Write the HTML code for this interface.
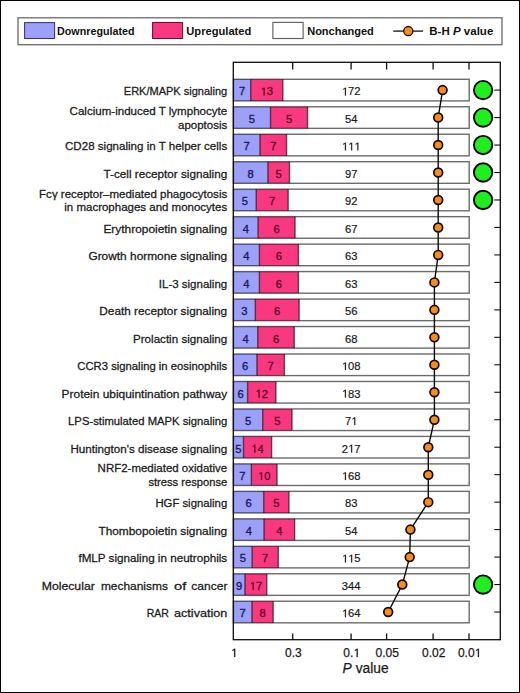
<!DOCTYPE html>
<html><head><meta charset="utf-8"><style>
html,body{margin:0;padding:0;background:#fff;}
svg{display:block;}
text{font-family:"Liberation Sans",sans-serif;}
</style></head><body>
<svg width="520" height="693" viewBox="0 0 520 693">
<rect x="0" y="0" width="520" height="693" fill="#fff"/>
<rect x="0.5" y="0.5" width="519" height="692" fill="none" stroke="#000" stroke-width="1"/>

<g>
<rect x="18" y="17.8" width="484" height="26.9" fill="#fff" stroke="#6a6a6a" stroke-width="1.3"/>
<rect x="24.6" y="22.6" width="30" height="15.9" fill="#9ca0f8" stroke="#33367a" stroke-width="1.05"/>
<rect x="152.6" y="22.5" width="30" height="16" fill="#fa3880" stroke="#6a1030" stroke-width="1.05"/>
<rect x="272.9" y="22.4" width="30.2" height="16.1" fill="#fff" stroke="#666" stroke-width="1.2"/>
<line x1="393.3" y1="31.1" x2="423.1" y2="31.1" stroke="#111" stroke-width="1.3"/>
<circle cx="408.3" cy="31.1" r="4.6" fill="#f58c1c" stroke="#111" stroke-width="1.3"/>
<text x="57.0" y="34.7" font-size="11" font-weight="bold" fill="#111" textLength="77.6" lengthAdjust="spacingAndGlyphs">Downregulated</text>
<text x="186.3" y="34.7" font-size="11" font-weight="bold" fill="#111" textLength="65.0" lengthAdjust="spacingAndGlyphs">Upregulated</text>
<text x="307.2" y="34.7" font-size="11" font-weight="bold" fill="#111" textLength="66.6" lengthAdjust="spacingAndGlyphs">Nonchanged</text>
<text x="429.3" y="34.7" font-size="11" font-weight="bold" fill="#111" textLength="64.0" lengthAdjust="spacingAndGlyphs">B-H <tspan font-style="italic">P</tspan> value</text>
</g>
<rect x="233.44" y="79.30" width="17.30" height="21.6" fill="#9ca0f8"/>
<rect x="250.74" y="79.30" width="32.12" height="21.6" fill="#fa3880"/>
<rect x="233.44" y="79.30" width="235.76" height="21.6" fill="none" stroke="rgba(0,0,0,0.58)" stroke-width="1.4"/>
<line x1="250.74" y1="79.30" x2="250.74" y2="100.90" stroke="rgba(0,0,0,0.6)" stroke-width="1.4"/>
<line x1="282.86" y1="79.30" x2="282.86" y2="100.90" stroke="rgba(0,0,0,0.6)" stroke-width="1.4"/>
<text x="238.97" y="95.40" font-size="11.2" fill="#1a1a5c" stroke="#1a1a5c" stroke-width="0.35">7</text>
<path d="M560 0H740V1409H610L250 1185V1025L560 1215Z" transform="translate(260.57,95.40) scale(0.00547,-0.00547)" fill="#5c0a24" stroke="#5c0a24" stroke-width="64.0"/><text x="266.80" y="95.40" font-size="11.2" fill="#5c0a24" stroke="#5c0a24" stroke-width="0.35">3</text>
<path d="M560 0H740V1409H610L250 1185V1025L560 1215Z" transform="translate(341.86,95.40) scale(0.00547,-0.00547)" fill="#1a1a1a" stroke="#1a1a1a" stroke-width="36.6"/><text x="348.09" y="95.40" font-size="11.2" fill="#1a1a1a" stroke="#1a1a1a" stroke-width="0.2">7</text><text x="354.31" y="95.40" font-size="11.2" fill="#1a1a1a" stroke="#1a1a1a" stroke-width="0.2">2</text>
<line x1="494.30" y1="90.10" x2="500.30" y2="90.10" stroke="#111" stroke-width="1.1"/>
<circle cx="483.1" cy="90.10" r="9.2" fill="#1fee1f" stroke="#050505" stroke-width="1.9"/>
<text x="227.20" y="95.40" font-size="11.7" text-anchor="end" fill="#1a1a1a" stroke="#1a1a1a" stroke-width="0.28" textLength="103.40" lengthAdjust="spacingAndGlyphs">ERK/MAPK signaling</text>
<rect x="233.44" y="106.77" width="37.06" height="21.6" fill="#9ca0f8"/>
<rect x="270.50" y="106.77" width="37.06" height="21.6" fill="#fa3880"/>
<rect x="233.44" y="106.77" width="235.76" height="21.6" fill="none" stroke="rgba(0,0,0,0.58)" stroke-width="1.4"/>
<line x1="270.50" y1="106.77" x2="270.50" y2="128.37" stroke="rgba(0,0,0,0.6)" stroke-width="1.4"/>
<line x1="307.56" y1="106.77" x2="307.56" y2="128.37" stroke="rgba(0,0,0,0.6)" stroke-width="1.4"/>
<text x="248.86" y="122.87" font-size="11.2" fill="#1a1a5c" stroke="#1a1a5c" stroke-width="0.35">5</text>
<text x="285.92" y="122.87" font-size="11.2" fill="#5c0a24" stroke="#5c0a24" stroke-width="0.35">5</text>
<text x="344.97" y="122.87" font-size="11.2" fill="#1a1a1a" stroke="#1a1a1a" stroke-width="0.2">5</text><text x="351.20" y="122.87" font-size="11.2" fill="#1a1a1a" stroke="#1a1a1a" stroke-width="0.2">4</text>
<line x1="494.30" y1="117.57" x2="500.30" y2="117.57" stroke="#111" stroke-width="1.1"/>
<circle cx="483.1" cy="117.57" r="9.2" fill="#1fee1f" stroke="#050505" stroke-width="1.9"/>
<text x="227.20" y="115.17" font-size="11.7" text-anchor="end" fill="#1a1a1a" stroke="#1a1a1a" stroke-width="0.28" textLength="157.60" lengthAdjust="spacingAndGlyphs">Calcium-induced T lymphocyte</text>
<text x="227.20" y="128.97" font-size="11.7" text-anchor="end" fill="#1a1a1a" stroke="#1a1a1a" stroke-width="0.28" textLength="49.20" lengthAdjust="spacingAndGlyphs">apoptosis</text>
<rect x="233.44" y="134.24" width="26.57" height="21.6" fill="#9ca0f8"/>
<rect x="260.01" y="134.24" width="26.57" height="21.6" fill="#fa3880"/>
<rect x="233.44" y="134.24" width="235.76" height="21.6" fill="none" stroke="rgba(0,0,0,0.58)" stroke-width="1.4"/>
<line x1="260.01" y1="134.24" x2="260.01" y2="155.84" stroke="rgba(0,0,0,0.6)" stroke-width="1.4"/>
<line x1="286.57" y1="134.24" x2="286.57" y2="155.84" stroke="rgba(0,0,0,0.6)" stroke-width="1.4"/>
<text x="243.61" y="150.34" font-size="11.2" fill="#1a1a5c" stroke="#1a1a5c" stroke-width="0.35">7</text>
<text x="270.18" y="150.34" font-size="11.2" fill="#5c0a24" stroke="#5c0a24" stroke-width="0.35">7</text>
<path d="M560 0H740V1409H610L250 1185V1025L560 1215Z" transform="translate(341.86,150.34) scale(0.00547,-0.00547)" fill="#1a1a1a" stroke="#1a1a1a" stroke-width="36.6"/><path d="M560 0H740V1409H610L250 1185V1025L560 1215Z" transform="translate(348.09,150.34) scale(0.00547,-0.00547)" fill="#1a1a1a" stroke="#1a1a1a" stroke-width="36.6"/><path d="M560 0H740V1409H610L250 1185V1025L560 1215Z" transform="translate(354.31,150.34) scale(0.00547,-0.00547)" fill="#1a1a1a" stroke="#1a1a1a" stroke-width="36.6"/>
<line x1="494.30" y1="145.04" x2="500.30" y2="145.04" stroke="#111" stroke-width="1.1"/>
<circle cx="483.1" cy="145.04" r="9.2" fill="#1fee1f" stroke="#050505" stroke-width="1.9"/>
<text x="227.20" y="150.34" font-size="11.7" text-anchor="end" fill="#1a1a1a" stroke="#1a1a1a" stroke-width="0.28" textLength="162.20" lengthAdjust="spacingAndGlyphs">CD28 signaling in T helper cells</text>
<rect x="233.44" y="161.71" width="34.50" height="21.6" fill="#9ca0f8"/>
<rect x="267.94" y="161.71" width="21.56" height="21.6" fill="#fa3880"/>
<rect x="233.44" y="161.71" width="235.76" height="21.6" fill="none" stroke="rgba(0,0,0,0.58)" stroke-width="1.4"/>
<line x1="267.94" y1="161.71" x2="267.94" y2="183.31" stroke="rgba(0,0,0,0.6)" stroke-width="1.4"/>
<line x1="289.51" y1="161.71" x2="289.51" y2="183.31" stroke="rgba(0,0,0,0.6)" stroke-width="1.4"/>
<text x="247.58" y="177.81" font-size="11.2" fill="#1a1a5c" stroke="#1a1a5c" stroke-width="0.35">8</text>
<text x="275.61" y="177.81" font-size="11.2" fill="#5c0a24" stroke="#5c0a24" stroke-width="0.35">5</text>
<text x="344.97" y="177.81" font-size="11.2" fill="#1a1a1a" stroke="#1a1a1a" stroke-width="0.2">9</text><text x="351.20" y="177.81" font-size="11.2" fill="#1a1a1a" stroke="#1a1a1a" stroke-width="0.2">7</text>
<line x1="494.30" y1="172.51" x2="500.30" y2="172.51" stroke="#111" stroke-width="1.1"/>
<circle cx="483.1" cy="172.51" r="9.2" fill="#1fee1f" stroke="#050505" stroke-width="1.9"/>
<text x="227.20" y="177.81" font-size="11.7" text-anchor="end" fill="#1a1a1a" stroke="#1a1a1a" stroke-width="0.28" textLength="123.70" lengthAdjust="spacingAndGlyphs">T-cell receptor signaling</text>
<rect x="233.44" y="189.18" width="22.81" height="21.6" fill="#9ca0f8"/>
<rect x="256.25" y="189.18" width="31.93" height="21.6" fill="#fa3880"/>
<rect x="233.44" y="189.18" width="235.76" height="21.6" fill="none" stroke="rgba(0,0,0,0.58)" stroke-width="1.4"/>
<line x1="256.25" y1="189.18" x2="256.25" y2="210.78" stroke="rgba(0,0,0,0.6)" stroke-width="1.4"/>
<line x1="288.18" y1="189.18" x2="288.18" y2="210.78" stroke="rgba(0,0,0,0.6)" stroke-width="1.4"/>
<text x="241.73" y="205.28" font-size="11.2" fill="#1a1a5c" stroke="#1a1a5c" stroke-width="0.35">5</text>
<text x="269.10" y="205.28" font-size="11.2" fill="#5c0a24" stroke="#5c0a24" stroke-width="0.35">7</text>
<text x="344.97" y="205.28" font-size="11.2" fill="#1a1a1a" stroke="#1a1a1a" stroke-width="0.2">9</text><text x="351.20" y="205.28" font-size="11.2" fill="#1a1a1a" stroke="#1a1a1a" stroke-width="0.2">2</text>
<line x1="494.30" y1="199.98" x2="500.30" y2="199.98" stroke="#111" stroke-width="1.1"/>
<circle cx="483.1" cy="199.98" r="9.2" fill="#1fee1f" stroke="#050505" stroke-width="1.9"/>
<text x="227.20" y="197.58" font-size="11.7" text-anchor="end" fill="#1a1a1a" stroke="#1a1a1a" stroke-width="0.28" textLength="188.10" lengthAdjust="spacingAndGlyphs">Fcγ receptor–mediated phagocytosis</text>
<text x="227.20" y="211.38" font-size="11.7" text-anchor="end" fill="#1a1a1a" stroke="#1a1a1a" stroke-width="0.28" textLength="162.90" lengthAdjust="spacingAndGlyphs">in macrophages and monocytes</text>
<rect x="233.44" y="216.65" width="24.64" height="21.6" fill="#9ca0f8"/>
<rect x="258.08" y="216.65" width="36.97" height="21.6" fill="#fa3880"/>
<rect x="233.44" y="216.65" width="235.76" height="21.6" fill="none" stroke="rgba(0,0,0,0.58)" stroke-width="1.4"/>
<line x1="258.08" y1="216.65" x2="258.08" y2="238.25" stroke="rgba(0,0,0,0.6)" stroke-width="1.4"/>
<line x1="295.05" y1="216.65" x2="295.05" y2="238.25" stroke="rgba(0,0,0,0.6)" stroke-width="1.4"/>
<text x="242.65" y="232.75" font-size="11.2" fill="#1a1a5c" stroke="#1a1a5c" stroke-width="0.35">4</text>
<text x="273.45" y="232.75" font-size="11.2" fill="#5c0a24" stroke="#5c0a24" stroke-width="0.35">6</text>
<text x="344.97" y="232.75" font-size="11.2" fill="#1a1a1a" stroke="#1a1a1a" stroke-width="0.2">6</text><text x="351.20" y="232.75" font-size="11.2" fill="#1a1a1a" stroke="#1a1a1a" stroke-width="0.2">7</text>
<line x1="494.30" y1="227.45" x2="500.30" y2="227.45" stroke="#111" stroke-width="1.1"/>
<text x="227.20" y="232.75" font-size="11.7" text-anchor="end" fill="#1a1a1a" stroke="#1a1a1a" stroke-width="0.28" textLength="123.80" lengthAdjust="spacingAndGlyphs">Erythropoietin signaling</text>
<rect x="233.44" y="244.12" width="25.99" height="21.6" fill="#9ca0f8"/>
<rect x="259.43" y="244.12" width="38.99" height="21.6" fill="#fa3880"/>
<rect x="233.44" y="244.12" width="235.76" height="21.6" fill="none" stroke="rgba(0,0,0,0.58)" stroke-width="1.4"/>
<line x1="259.43" y1="244.12" x2="259.43" y2="265.72" stroke="rgba(0,0,0,0.6)" stroke-width="1.4"/>
<line x1="298.43" y1="244.12" x2="298.43" y2="265.72" stroke="rgba(0,0,0,0.6)" stroke-width="1.4"/>
<text x="243.32" y="260.22" font-size="11.2" fill="#1a1a5c" stroke="#1a1a5c" stroke-width="0.35">4</text>
<text x="275.82" y="260.22" font-size="11.2" fill="#5c0a24" stroke="#5c0a24" stroke-width="0.35">6</text>
<text x="344.97" y="260.22" font-size="11.2" fill="#1a1a1a" stroke="#1a1a1a" stroke-width="0.2">6</text><text x="351.20" y="260.22" font-size="11.2" fill="#1a1a1a" stroke="#1a1a1a" stroke-width="0.2">3</text>
<line x1="494.30" y1="254.92" x2="500.30" y2="254.92" stroke="#111" stroke-width="1.1"/>
<text x="227.20" y="260.22" font-size="11.7" text-anchor="end" fill="#1a1a1a" stroke="#1a1a1a" stroke-width="0.28" textLength="138.80" lengthAdjust="spacingAndGlyphs">Growth hormone signaling</text>
<rect x="233.44" y="271.59" width="25.99" height="21.6" fill="#9ca0f8"/>
<rect x="259.43" y="271.59" width="38.99" height="21.6" fill="#fa3880"/>
<rect x="233.44" y="271.59" width="235.76" height="21.6" fill="none" stroke="rgba(0,0,0,0.58)" stroke-width="1.4"/>
<line x1="259.43" y1="271.59" x2="259.43" y2="293.19" stroke="rgba(0,0,0,0.6)" stroke-width="1.4"/>
<line x1="298.43" y1="271.59" x2="298.43" y2="293.19" stroke="rgba(0,0,0,0.6)" stroke-width="1.4"/>
<text x="243.32" y="287.69" font-size="11.2" fill="#1a1a5c" stroke="#1a1a5c" stroke-width="0.35">4</text>
<text x="275.82" y="287.69" font-size="11.2" fill="#5c0a24" stroke="#5c0a24" stroke-width="0.35">6</text>
<text x="344.97" y="287.69" font-size="11.2" fill="#1a1a1a" stroke="#1a1a1a" stroke-width="0.2">6</text><text x="351.20" y="287.69" font-size="11.2" fill="#1a1a1a" stroke="#1a1a1a" stroke-width="0.2">3</text>
<line x1="494.30" y1="282.39" x2="500.30" y2="282.39" stroke="#111" stroke-width="1.1"/>
<text x="227.20" y="287.69" font-size="11.7" text-anchor="end" fill="#1a1a1a" stroke="#1a1a1a" stroke-width="0.28" textLength="68.40" lengthAdjust="spacingAndGlyphs">IL-3 signaling</text>
<rect x="233.44" y="299.06" width="21.90" height="21.6" fill="#9ca0f8"/>
<rect x="255.34" y="299.06" width="43.79" height="21.6" fill="#fa3880"/>
<rect x="233.44" y="299.06" width="235.76" height="21.6" fill="none" stroke="rgba(0,0,0,0.58)" stroke-width="1.4"/>
<line x1="255.34" y1="299.06" x2="255.34" y2="320.66" stroke="rgba(0,0,0,0.6)" stroke-width="1.4"/>
<line x1="299.13" y1="299.06" x2="299.13" y2="320.66" stroke="rgba(0,0,0,0.6)" stroke-width="1.4"/>
<text x="241.27" y="315.16" font-size="11.2" fill="#1a1a5c" stroke="#1a1a5c" stroke-width="0.35">3</text>
<text x="274.12" y="315.16" font-size="11.2" fill="#5c0a24" stroke="#5c0a24" stroke-width="0.35">6</text>
<text x="344.97" y="315.16" font-size="11.2" fill="#1a1a1a" stroke="#1a1a1a" stroke-width="0.2">5</text><text x="351.20" y="315.16" font-size="11.2" fill="#1a1a1a" stroke="#1a1a1a" stroke-width="0.2">6</text>
<line x1="494.30" y1="309.86" x2="500.30" y2="309.86" stroke="#111" stroke-width="1.1"/>
<text x="227.20" y="315.16" font-size="11.7" text-anchor="end" fill="#1a1a1a" stroke="#1a1a1a" stroke-width="0.28" textLength="127.90" lengthAdjust="spacingAndGlyphs">Death receptor signaling</text>
<rect x="233.44" y="326.53" width="24.33" height="21.6" fill="#9ca0f8"/>
<rect x="257.77" y="326.53" width="36.49" height="21.6" fill="#fa3880"/>
<rect x="233.44" y="326.53" width="235.76" height="21.6" fill="none" stroke="rgba(0,0,0,0.58)" stroke-width="1.4"/>
<line x1="257.77" y1="326.53" x2="257.77" y2="348.13" stroke="rgba(0,0,0,0.6)" stroke-width="1.4"/>
<line x1="294.26" y1="326.53" x2="294.26" y2="348.13" stroke="rgba(0,0,0,0.6)" stroke-width="1.4"/>
<text x="242.49" y="342.63" font-size="11.2" fill="#1a1a5c" stroke="#1a1a5c" stroke-width="0.35">4</text>
<text x="272.90" y="342.63" font-size="11.2" fill="#5c0a24" stroke="#5c0a24" stroke-width="0.35">6</text>
<text x="344.97" y="342.63" font-size="11.2" fill="#1a1a1a" stroke="#1a1a1a" stroke-width="0.2">6</text><text x="351.20" y="342.63" font-size="11.2" fill="#1a1a1a" stroke="#1a1a1a" stroke-width="0.2">8</text>
<line x1="494.30" y1="337.33" x2="500.30" y2="337.33" stroke="#111" stroke-width="1.1"/>
<text x="227.20" y="342.63" font-size="11.7" text-anchor="end" fill="#1a1a1a" stroke="#1a1a1a" stroke-width="0.28" textLength="94.20" lengthAdjust="spacingAndGlyphs">Prolactin signaling</text>
<rect x="233.44" y="354.00" width="23.52" height="21.6" fill="#9ca0f8"/>
<rect x="256.96" y="354.00" width="27.44" height="21.6" fill="#fa3880"/>
<rect x="233.44" y="354.00" width="235.76" height="21.6" fill="none" stroke="rgba(0,0,0,0.58)" stroke-width="1.4"/>
<line x1="256.96" y1="354.00" x2="256.96" y2="375.60" stroke="rgba(0,0,0,0.6)" stroke-width="1.4"/>
<line x1="284.41" y1="354.00" x2="284.41" y2="375.60" stroke="rgba(0,0,0,0.6)" stroke-width="1.4"/>
<text x="242.09" y="370.10" font-size="11.2" fill="#1a1a5c" stroke="#1a1a5c" stroke-width="0.35">6</text>
<text x="267.57" y="370.10" font-size="11.2" fill="#5c0a24" stroke="#5c0a24" stroke-width="0.35">7</text>
<path d="M560 0H740V1409H610L250 1185V1025L560 1215Z" transform="translate(341.86,370.10) scale(0.00547,-0.00547)" fill="#1a1a1a" stroke="#1a1a1a" stroke-width="36.6"/><text x="348.09" y="370.10" font-size="11.2" fill="#1a1a1a" stroke="#1a1a1a" stroke-width="0.2">0</text><text x="354.31" y="370.10" font-size="11.2" fill="#1a1a1a" stroke="#1a1a1a" stroke-width="0.2">8</text>
<line x1="494.30" y1="364.80" x2="500.30" y2="364.80" stroke="#111" stroke-width="1.1"/>
<text x="227.20" y="370.10" font-size="11.7" text-anchor="end" fill="#1a1a1a" stroke="#1a1a1a" stroke-width="0.28" textLength="149.90" lengthAdjust="spacingAndGlyphs">CCR3 signaling in eosinophils</text>
<rect x="233.44" y="381.47" width="14.16" height="21.6" fill="#9ca0f8"/>
<rect x="247.60" y="381.47" width="28.32" height="21.6" fill="#fa3880"/>
<rect x="233.44" y="381.47" width="235.76" height="21.6" fill="none" stroke="rgba(0,0,0,0.58)" stroke-width="1.4"/>
<line x1="247.60" y1="381.47" x2="247.60" y2="403.07" stroke="rgba(0,0,0,0.6)" stroke-width="1.4"/>
<line x1="275.92" y1="381.47" x2="275.92" y2="403.07" stroke="rgba(0,0,0,0.6)" stroke-width="1.4"/>
<text x="237.41" y="397.57" font-size="11.2" fill="#1a1a5c" stroke="#1a1a5c" stroke-width="0.35">6</text>
<path d="M560 0H740V1409H610L250 1185V1025L560 1215Z" transform="translate(255.53,397.57) scale(0.00547,-0.00547)" fill="#5c0a24" stroke="#5c0a24" stroke-width="64.0"/><text x="261.76" y="397.57" font-size="11.2" fill="#5c0a24" stroke="#5c0a24" stroke-width="0.35">2</text>
<path d="M560 0H740V1409H610L250 1185V1025L560 1215Z" transform="translate(341.86,397.57) scale(0.00547,-0.00547)" fill="#1a1a1a" stroke="#1a1a1a" stroke-width="36.6"/><text x="348.09" y="397.57" font-size="11.2" fill="#1a1a1a" stroke="#1a1a1a" stroke-width="0.2">8</text><text x="354.31" y="397.57" font-size="11.2" fill="#1a1a1a" stroke="#1a1a1a" stroke-width="0.2">3</text>
<line x1="494.30" y1="392.27" x2="500.30" y2="392.27" stroke="#111" stroke-width="1.1"/>
<text x="227.20" y="397.57" font-size="11.7" text-anchor="end" fill="#1a1a1a" stroke="#1a1a1a" stroke-width="0.28" textLength="165.60" lengthAdjust="spacingAndGlyphs">Protein ubiquintination pathway</text>
<rect x="233.44" y="408.94" width="29.28" height="21.6" fill="#9ca0f8"/>
<rect x="262.72" y="408.94" width="29.28" height="21.6" fill="#fa3880"/>
<rect x="233.44" y="408.94" width="235.76" height="21.6" fill="none" stroke="rgba(0,0,0,0.58)" stroke-width="1.4"/>
<line x1="262.72" y1="408.94" x2="262.72" y2="430.54" stroke="rgba(0,0,0,0.6)" stroke-width="1.4"/>
<line x1="292.01" y1="408.94" x2="292.01" y2="430.54" stroke="rgba(0,0,0,0.6)" stroke-width="1.4"/>
<text x="244.97" y="425.04" font-size="11.2" fill="#1a1a5c" stroke="#1a1a5c" stroke-width="0.35">5</text>
<text x="274.25" y="425.04" font-size="11.2" fill="#5c0a24" stroke="#5c0a24" stroke-width="0.35">5</text>
<text x="344.97" y="425.04" font-size="11.2" fill="#1a1a1a" stroke="#1a1a1a" stroke-width="0.2">7</text><path d="M560 0H740V1409H610L250 1185V1025L560 1215Z" transform="translate(351.20,425.04) scale(0.00547,-0.00547)" fill="#1a1a1a" stroke="#1a1a1a" stroke-width="36.6"/>
<line x1="494.30" y1="419.74" x2="500.30" y2="419.74" stroke="#111" stroke-width="1.1"/>
<text x="227.20" y="425.04" font-size="11.7" text-anchor="end" fill="#1a1a1a" stroke="#1a1a1a" stroke-width="0.28" textLength="159.10" lengthAdjust="spacingAndGlyphs">LPS-stimulated MAPK signaling</text>
<rect x="233.44" y="436.41" width="10.05" height="21.6" fill="#9ca0f8"/>
<rect x="243.49" y="436.41" width="28.14" height="21.6" fill="#fa3880"/>
<rect x="233.44" y="436.41" width="235.76" height="21.6" fill="none" stroke="rgba(0,0,0,0.58)" stroke-width="1.4"/>
<line x1="243.49" y1="436.41" x2="243.49" y2="458.01" stroke="rgba(0,0,0,0.6)" stroke-width="1.4"/>
<line x1="271.63" y1="436.41" x2="271.63" y2="458.01" stroke="rgba(0,0,0,0.6)" stroke-width="1.4"/>
<text x="235.35" y="452.51" font-size="11.2" fill="#1a1a5c" stroke="#1a1a5c" stroke-width="0.35">5</text>
<path d="M560 0H740V1409H610L250 1185V1025L560 1215Z" transform="translate(251.33,452.51) scale(0.00547,-0.00547)" fill="#5c0a24" stroke="#5c0a24" stroke-width="64.0"/><text x="257.56" y="452.51" font-size="11.2" fill="#5c0a24" stroke="#5c0a24" stroke-width="0.35">4</text>
<text x="341.86" y="452.51" font-size="11.2" fill="#1a1a1a" stroke="#1a1a1a" stroke-width="0.2">2</text><path d="M560 0H740V1409H610L250 1185V1025L560 1215Z" transform="translate(348.09,452.51) scale(0.00547,-0.00547)" fill="#1a1a1a" stroke="#1a1a1a" stroke-width="36.6"/><text x="354.31" y="452.51" font-size="11.2" fill="#1a1a1a" stroke="#1a1a1a" stroke-width="0.2">7</text>
<line x1="494.30" y1="447.21" x2="500.30" y2="447.21" stroke="#111" stroke-width="1.1"/>
<text x="227.20" y="452.51" font-size="11.7" text-anchor="end" fill="#1a1a1a" stroke="#1a1a1a" stroke-width="0.28" textLength="156.80" lengthAdjust="spacingAndGlyphs">Huntington's disease signaling</text>
<rect x="233.44" y="463.88" width="17.95" height="21.6" fill="#9ca0f8"/>
<rect x="251.39" y="463.88" width="25.64" height="21.6" fill="#fa3880"/>
<rect x="233.44" y="463.88" width="235.76" height="21.6" fill="none" stroke="rgba(0,0,0,0.58)" stroke-width="1.4"/>
<line x1="251.39" y1="463.88" x2="251.39" y2="485.48" stroke="rgba(0,0,0,0.6)" stroke-width="1.4"/>
<line x1="277.03" y1="463.88" x2="277.03" y2="485.48" stroke="rgba(0,0,0,0.6)" stroke-width="1.4"/>
<text x="239.30" y="479.98" font-size="11.2" fill="#1a1a5c" stroke="#1a1a5c" stroke-width="0.35">7</text>
<path d="M560 0H740V1409H610L250 1185V1025L560 1215Z" transform="translate(257.98,479.98) scale(0.00547,-0.00547)" fill="#5c0a24" stroke="#5c0a24" stroke-width="64.0"/><text x="264.21" y="479.98" font-size="11.2" fill="#5c0a24" stroke="#5c0a24" stroke-width="0.35">0</text>
<path d="M560 0H740V1409H610L250 1185V1025L560 1215Z" transform="translate(341.86,479.98) scale(0.00547,-0.00547)" fill="#1a1a1a" stroke="#1a1a1a" stroke-width="36.6"/><text x="348.09" y="479.98" font-size="11.2" fill="#1a1a1a" stroke="#1a1a1a" stroke-width="0.2">6</text><text x="354.31" y="479.98" font-size="11.2" fill="#1a1a1a" stroke="#1a1a1a" stroke-width="0.2">8</text>
<line x1="494.30" y1="474.68" x2="500.30" y2="474.68" stroke="#111" stroke-width="1.1"/>
<text x="227.20" y="472.28" font-size="11.7" text-anchor="end" fill="#1a1a1a" stroke="#1a1a1a" stroke-width="0.28" textLength="129.60" lengthAdjust="spacingAndGlyphs">NRF2-mediated oxidative</text>
<text x="227.20" y="486.08" font-size="11.7" text-anchor="end" fill="#1a1a1a" stroke="#1a1a1a" stroke-width="0.28" textLength="78.80" lengthAdjust="spacingAndGlyphs">stress response</text>
<rect x="233.44" y="491.35" width="30.28" height="21.6" fill="#9ca0f8"/>
<rect x="263.72" y="491.35" width="25.23" height="21.6" fill="#fa3880"/>
<rect x="233.44" y="491.35" width="235.76" height="21.6" fill="none" stroke="rgba(0,0,0,0.58)" stroke-width="1.4"/>
<line x1="263.72" y1="491.35" x2="263.72" y2="512.95" stroke="rgba(0,0,0,0.6)" stroke-width="1.4"/>
<line x1="288.95" y1="491.35" x2="288.95" y2="512.95" stroke="rgba(0,0,0,0.6)" stroke-width="1.4"/>
<text x="245.47" y="507.45" font-size="11.2" fill="#1a1a5c" stroke="#1a1a5c" stroke-width="0.35">6</text>
<text x="273.22" y="507.45" font-size="11.2" fill="#5c0a24" stroke="#5c0a24" stroke-width="0.35">5</text>
<text x="344.97" y="507.45" font-size="11.2" fill="#1a1a1a" stroke="#1a1a1a" stroke-width="0.2">8</text><text x="351.20" y="507.45" font-size="11.2" fill="#1a1a1a" stroke="#1a1a1a" stroke-width="0.2">3</text>
<line x1="494.30" y1="502.15" x2="500.30" y2="502.15" stroke="#111" stroke-width="1.1"/>
<text x="227.20" y="507.45" font-size="11.7" text-anchor="end" fill="#1a1a1a" stroke="#1a1a1a" stroke-width="0.28" textLength="71.80" lengthAdjust="spacingAndGlyphs">HGF signaling</text>
<rect x="233.44" y="518.82" width="30.61" height="21.6" fill="#9ca0f8"/>
<rect x="264.05" y="518.82" width="30.61" height="21.6" fill="#fa3880"/>
<rect x="233.44" y="518.82" width="235.76" height="21.6" fill="none" stroke="rgba(0,0,0,0.58)" stroke-width="1.4"/>
<line x1="264.05" y1="518.82" x2="264.05" y2="540.42" stroke="rgba(0,0,0,0.6)" stroke-width="1.4"/>
<line x1="294.65" y1="518.82" x2="294.65" y2="540.42" stroke="rgba(0,0,0,0.6)" stroke-width="1.4"/>
<text x="245.63" y="534.92" font-size="11.2" fill="#1a1a5c" stroke="#1a1a5c" stroke-width="0.35">4</text>
<text x="276.24" y="534.92" font-size="11.2" fill="#5c0a24" stroke="#5c0a24" stroke-width="0.35">4</text>
<text x="344.97" y="534.92" font-size="11.2" fill="#1a1a1a" stroke="#1a1a1a" stroke-width="0.2">5</text><text x="351.20" y="534.92" font-size="11.2" fill="#1a1a1a" stroke="#1a1a1a" stroke-width="0.2">4</text>
<line x1="494.30" y1="529.62" x2="500.30" y2="529.62" stroke="#111" stroke-width="1.1"/>
<text x="227.20" y="534.92" font-size="11.7" text-anchor="end" fill="#1a1a1a" stroke="#1a1a1a" stroke-width="0.28" textLength="128.80" lengthAdjust="spacingAndGlyphs">Thombopoietin signaling</text>
<rect x="233.44" y="546.29" width="18.68" height="21.6" fill="#9ca0f8"/>
<rect x="252.12" y="546.29" width="26.15" height="21.6" fill="#fa3880"/>
<rect x="233.44" y="546.29" width="235.76" height="21.6" fill="none" stroke="rgba(0,0,0,0.58)" stroke-width="1.4"/>
<line x1="252.12" y1="546.29" x2="252.12" y2="567.89" stroke="rgba(0,0,0,0.6)" stroke-width="1.4"/>
<line x1="278.27" y1="546.29" x2="278.27" y2="567.89" stroke="rgba(0,0,0,0.6)" stroke-width="1.4"/>
<text x="239.66" y="562.39" font-size="11.2" fill="#1a1a5c" stroke="#1a1a5c" stroke-width="0.35">5</text>
<text x="262.08" y="562.39" font-size="11.2" fill="#5c0a24" stroke="#5c0a24" stroke-width="0.35">7</text>
<path d="M560 0H740V1409H610L250 1185V1025L560 1215Z" transform="translate(341.86,562.39) scale(0.00547,-0.00547)" fill="#1a1a1a" stroke="#1a1a1a" stroke-width="36.6"/><path d="M560 0H740V1409H610L250 1185V1025L560 1215Z" transform="translate(348.09,562.39) scale(0.00547,-0.00547)" fill="#1a1a1a" stroke="#1a1a1a" stroke-width="36.6"/><text x="354.31" y="562.39" font-size="11.2" fill="#1a1a1a" stroke="#1a1a1a" stroke-width="0.2">5</text>
<line x1="494.30" y1="557.09" x2="500.30" y2="557.09" stroke="#111" stroke-width="1.1"/>
<text x="227.20" y="562.39" font-size="11.7" text-anchor="end" fill="#1a1a1a" stroke="#1a1a1a" stroke-width="0.28" textLength="148.80" lengthAdjust="spacingAndGlyphs">fMLP signaling in neutrophils</text>
<rect x="233.44" y="573.76" width="11.54" height="21.6" fill="#9ca0f8"/>
<rect x="244.98" y="573.76" width="21.80" height="21.6" fill="#fa3880"/>
<rect x="233.44" y="573.76" width="235.76" height="21.6" fill="none" stroke="rgba(0,0,0,0.58)" stroke-width="1.4"/>
<line x1="244.98" y1="573.76" x2="244.98" y2="595.36" stroke="rgba(0,0,0,0.6)" stroke-width="1.4"/>
<line x1="266.78" y1="573.76" x2="266.78" y2="595.36" stroke="rgba(0,0,0,0.6)" stroke-width="1.4"/>
<text x="236.10" y="589.86" font-size="11.2" fill="#1a1a5c" stroke="#1a1a5c" stroke-width="0.35">9</text>
<path d="M560 0H740V1409H610L250 1185V1025L560 1215Z" transform="translate(249.65,589.86) scale(0.00547,-0.00547)" fill="#5c0a24" stroke="#5c0a24" stroke-width="64.0"/><text x="255.88" y="589.86" font-size="11.2" fill="#5c0a24" stroke="#5c0a24" stroke-width="0.35">7</text>
<text x="341.86" y="589.86" font-size="11.2" fill="#1a1a1a" stroke="#1a1a1a" stroke-width="0.2">3</text><text x="348.09" y="589.86" font-size="11.2" fill="#1a1a1a" stroke="#1a1a1a" stroke-width="0.2">4</text><text x="354.31" y="589.86" font-size="11.2" fill="#1a1a1a" stroke="#1a1a1a" stroke-width="0.2">4</text>
<line x1="494.30" y1="584.56" x2="500.30" y2="584.56" stroke="#111" stroke-width="1.1"/>
<circle cx="483.1" cy="584.56" r="9.2" fill="#1fee1f" stroke="#050505" stroke-width="1.9"/>
<text x="41.70" y="589.86" font-size="11.7" fill="#1a1a1a" stroke="#1a1a1a" stroke-width="0.28" textLength="53.10" lengthAdjust="spacingAndGlyphs">Molecular</text>
<text x="100.90" y="589.86" font-size="11.7" fill="#1a1a1a" stroke="#1a1a1a" stroke-width="0.28" textLength="67.00" lengthAdjust="spacingAndGlyphs">mechanisms</text>
<text x="174.00" y="589.86" font-size="11.7" fill="#1a1a1a" stroke="#1a1a1a" stroke-width="0.28" textLength="12.20" lengthAdjust="spacingAndGlyphs">of</text>
<text x="191.30" y="589.86" font-size="11.7" fill="#1a1a1a" stroke="#1a1a1a" stroke-width="0.28" textLength="36.20" lengthAdjust="spacingAndGlyphs">cancer</text>
<rect x="233.44" y="601.23" width="18.55" height="21.6" fill="#9ca0f8"/>
<rect x="251.99" y="601.23" width="21.20" height="21.6" fill="#fa3880"/>
<rect x="233.44" y="601.23" width="235.76" height="21.6" fill="none" stroke="rgba(0,0,0,0.58)" stroke-width="1.4"/>
<line x1="251.99" y1="601.23" x2="251.99" y2="622.83" stroke="rgba(0,0,0,0.6)" stroke-width="1.4"/>
<line x1="273.19" y1="601.23" x2="273.19" y2="622.83" stroke="rgba(0,0,0,0.6)" stroke-width="1.4"/>
<text x="239.60" y="617.33" font-size="11.2" fill="#1a1a5c" stroke="#1a1a5c" stroke-width="0.35">7</text>
<text x="259.48" y="617.33" font-size="11.2" fill="#5c0a24" stroke="#5c0a24" stroke-width="0.35">8</text>
<path d="M560 0H740V1409H610L250 1185V1025L560 1215Z" transform="translate(341.86,617.33) scale(0.00547,-0.00547)" fill="#1a1a1a" stroke="#1a1a1a" stroke-width="36.6"/><text x="348.09" y="617.33" font-size="11.2" fill="#1a1a1a" stroke="#1a1a1a" stroke-width="0.2">6</text><text x="354.31" y="617.33" font-size="11.2" fill="#1a1a1a" stroke="#1a1a1a" stroke-width="0.2">4</text>
<line x1="494.30" y1="612.03" x2="500.30" y2="612.03" stroke="#111" stroke-width="1.1"/>
<text x="146.70" y="617.33" font-size="11.7" fill="#1a1a1a" stroke="#1a1a1a" stroke-width="0.28" textLength="22.20" lengthAdjust="spacingAndGlyphs">RAR</text>
<text x="174.00" y="617.33" font-size="11.7" fill="#1a1a1a" stroke="#1a1a1a" stroke-width="0.28" textLength="53.30" lengthAdjust="spacingAndGlyphs">activation</text>
<polyline points="442.60,90.10 438.20,117.57 438.20,145.04 438.20,172.51 438.20,199.98 438.20,227.45 438.20,254.92 434.40,282.39 434.40,309.86 434.40,337.33 434.40,364.80 434.40,392.27 434.40,419.74 428.30,447.21 428.30,474.68 428.30,502.15 410.40,529.62 409.70,557.09 402.30,584.56 388.20,612.03" fill="none" stroke="#0d0d0d" stroke-width="1.4" stroke-linejoin="round"/>
<circle cx="442.60" cy="90.10" r="4.4" fill="#f58c1c" stroke="#140800" stroke-width="1.7"/>
<circle cx="438.20" cy="117.57" r="4.4" fill="#f58c1c" stroke="#140800" stroke-width="1.7"/>
<circle cx="438.20" cy="145.04" r="4.4" fill="#f58c1c" stroke="#140800" stroke-width="1.7"/>
<circle cx="438.20" cy="172.51" r="4.4" fill="#f58c1c" stroke="#140800" stroke-width="1.7"/>
<circle cx="438.20" cy="199.98" r="4.4" fill="#f58c1c" stroke="#140800" stroke-width="1.7"/>
<circle cx="438.20" cy="227.45" r="4.4" fill="#f58c1c" stroke="#140800" stroke-width="1.7"/>
<circle cx="438.20" cy="254.92" r="4.4" fill="#f58c1c" stroke="#140800" stroke-width="1.7"/>
<circle cx="434.40" cy="282.39" r="4.4" fill="#f58c1c" stroke="#140800" stroke-width="1.7"/>
<circle cx="434.40" cy="309.86" r="4.4" fill="#f58c1c" stroke="#140800" stroke-width="1.7"/>
<circle cx="434.40" cy="337.33" r="4.4" fill="#f58c1c" stroke="#140800" stroke-width="1.7"/>
<circle cx="434.40" cy="364.80" r="4.4" fill="#f58c1c" stroke="#140800" stroke-width="1.7"/>
<circle cx="434.40" cy="392.27" r="4.4" fill="#f58c1c" stroke="#140800" stroke-width="1.7"/>
<circle cx="434.40" cy="419.74" r="4.4" fill="#f58c1c" stroke="#140800" stroke-width="1.7"/>
<circle cx="428.30" cy="447.21" r="4.4" fill="#f58c1c" stroke="#140800" stroke-width="1.7"/>
<circle cx="428.30" cy="474.68" r="4.4" fill="#f58c1c" stroke="#140800" stroke-width="1.7"/>
<circle cx="428.30" cy="502.15" r="4.4" fill="#f58c1c" stroke="#140800" stroke-width="1.7"/>
<circle cx="410.40" cy="529.62" r="4.4" fill="#f58c1c" stroke="#140800" stroke-width="1.7"/>
<circle cx="409.70" cy="557.09" r="4.4" fill="#f58c1c" stroke="#140800" stroke-width="1.7"/>
<circle cx="402.30" cy="584.56" r="4.4" fill="#f58c1c" stroke="#140800" stroke-width="1.7"/>
<circle cx="388.20" cy="612.03" r="4.4" fill="#f58c1c" stroke="#140800" stroke-width="1.7"/>
<rect x="233.3" y="62.3" width="267.00" height="577.40" fill="none" stroke="#0d0d0d" stroke-width="1.3"/>
<line x1="292.7" y1="62.3" x2="292.7" y2="69.5" stroke="#111" stroke-width="1.3"/>
<line x1="292.7" y1="639.7" x2="292.7" y2="633.5" stroke="#111" stroke-width="1.3"/>
<line x1="351.1" y1="62.3" x2="351.1" y2="69.5" stroke="#111" stroke-width="1.3"/>
<line x1="351.1" y1="639.7" x2="351.1" y2="633.5" stroke="#111" stroke-width="1.3"/>
<line x1="386.6" y1="62.3" x2="386.6" y2="69.5" stroke="#111" stroke-width="1.3"/>
<line x1="386.6" y1="639.7" x2="386.6" y2="633.5" stroke="#111" stroke-width="1.3"/>
<line x1="433.1" y1="62.3" x2="433.1" y2="69.5" stroke="#111" stroke-width="1.3"/>
<line x1="433.1" y1="639.7" x2="433.1" y2="633.5" stroke="#111" stroke-width="1.3"/>
<line x1="469.0" y1="62.3" x2="469.0" y2="69.5" stroke="#111" stroke-width="1.3"/>
<line x1="469.0" y1="639.7" x2="469.0" y2="633.5" stroke="#111" stroke-width="1.3"/>
<path d="M560 0H740V1409H610L250 1185V1025L560 1215Z" transform="translate(230.86,657.00) scale(0.00586,-0.00586)" fill="#1a1a1a" stroke="#1a1a1a" stroke-width="42.7"/>
<text x="284.96" y="657.00" font-size="12" fill="#1a1a1a" stroke="#1a1a1a" stroke-width="0.25">0</text><text x="291.63" y="657.00" font-size="12" fill="#1a1a1a" stroke="#1a1a1a" stroke-width="0.25">.</text><text x="294.97" y="657.00" font-size="12" fill="#1a1a1a" stroke="#1a1a1a" stroke-width="0.25">3</text>
<text x="343.36" y="657.00" font-size="12" fill="#1a1a1a" stroke="#1a1a1a" stroke-width="0.25">0</text><text x="350.03" y="657.00" font-size="12" fill="#1a1a1a" stroke="#1a1a1a" stroke-width="0.25">.</text><path d="M560 0H740V1409H610L250 1185V1025L560 1215Z" transform="translate(353.37,657.00) scale(0.00586,-0.00586)" fill="#1a1a1a" stroke="#1a1a1a" stroke-width="42.7"/>
<text x="375.52" y="657.00" font-size="12" fill="#1a1a1a" stroke="#1a1a1a" stroke-width="0.25">0</text><text x="382.20" y="657.00" font-size="12" fill="#1a1a1a" stroke="#1a1a1a" stroke-width="0.25">.</text><text x="385.53" y="657.00" font-size="12" fill="#1a1a1a" stroke="#1a1a1a" stroke-width="0.25">0</text><text x="392.20" y="657.00" font-size="12" fill="#1a1a1a" stroke="#1a1a1a" stroke-width="0.25">5</text>
<text x="422.02" y="657.00" font-size="12" fill="#1a1a1a" stroke="#1a1a1a" stroke-width="0.25">0</text><text x="428.70" y="657.00" font-size="12" fill="#1a1a1a" stroke="#1a1a1a" stroke-width="0.25">.</text><text x="432.03" y="657.00" font-size="12" fill="#1a1a1a" stroke="#1a1a1a" stroke-width="0.25">0</text><text x="438.70" y="657.00" font-size="12" fill="#1a1a1a" stroke="#1a1a1a" stroke-width="0.25">2</text>
<text x="457.92" y="657.00" font-size="12" fill="#1a1a1a" stroke="#1a1a1a" stroke-width="0.25">0</text><text x="464.60" y="657.00" font-size="12" fill="#1a1a1a" stroke="#1a1a1a" stroke-width="0.25">.</text><text x="467.93" y="657.00" font-size="12" fill="#1a1a1a" stroke="#1a1a1a" stroke-width="0.25">0</text><path d="M560 0H740V1409H610L250 1185V1025L560 1215Z" transform="translate(474.60,657.00) scale(0.00586,-0.00586)" fill="#1a1a1a" stroke="#1a1a1a" stroke-width="42.7"/>
<text x="342.6" y="672.7" font-size="13.8" fill="#1a1a1a" stroke="#1a1a1a" stroke-width="0.25"><tspan font-style="italic">P</tspan> value</text>
</svg>
</body></html>
